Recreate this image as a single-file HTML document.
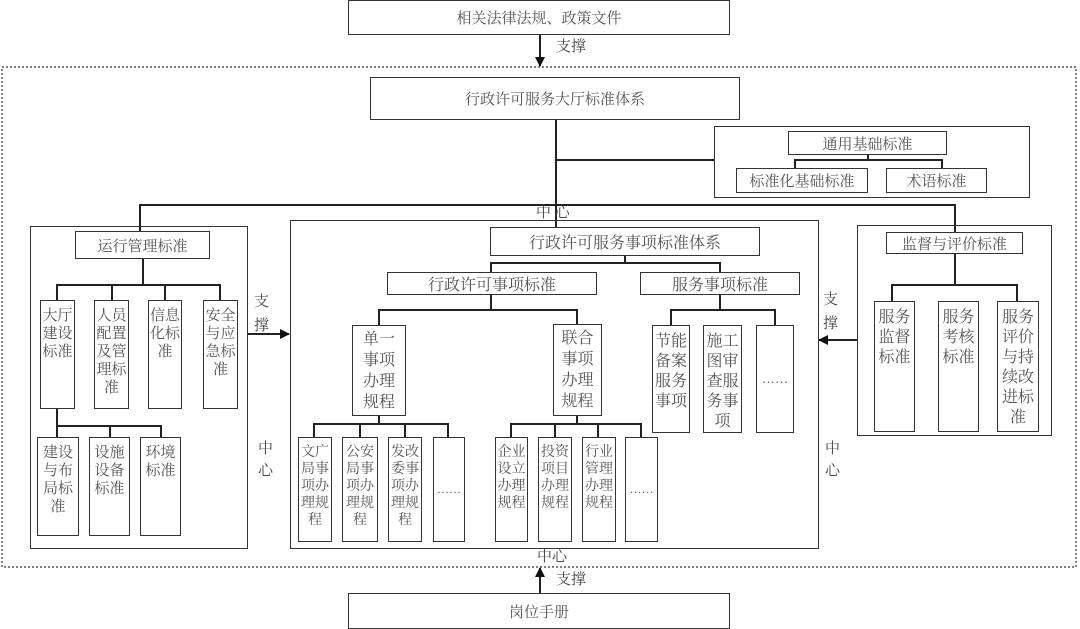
<!DOCTYPE html>
<html><head><meta charset="utf-8"><style>
body{margin:0;width:1080px;height:628px;background:#fff;position:relative;overflow:hidden;font-family:"Liberation Serif","Noto Serif CJK SC","Noto Sans CJK SC",serif;color:#555}
.b{position:absolute;border:1.5px solid #333;box-sizing:border-box;background:#fff;text-align:center}
.h{display:flex;align-items:center;justify-content:center;font-size:15px}
.v{font-size:15px;line-height:18px;padding-top:6px;text-align:center;padding-left:0;white-space:nowrap}
.t{position:absolute;font-size:15px;color:#444;line-height:18px}
svg{position:absolute;left:0;top:0}
</style></head><body>
<svg width="1080" height="628">
<defs><marker id="a" markerWidth="10" markerHeight="10" refX="9" refY="5" orient="auto" markerUnits="userSpaceOnUse"><path d="M0,0 L10,5 L0,10z" fill="#111"/></marker></defs>
<rect x="2" y="67" width="1074" height="500" fill="none" stroke="#333" stroke-width="1.2" stroke-dasharray="2,2"/>
<g stroke="#222" stroke-width="2" fill="none">
<line x1="540" y1="34" x2="540" y2="66" marker-end="url(#a)"/>
<line x1="540" y1="596" x2="540" y2="568" marker-end="url(#a)"/>
<line x1="248" y1="334" x2="289" y2="334" marker-end="url(#a)"/>
<line x1="857" y1="340" x2="819" y2="340" marker-end="url(#a)"/>
<polyline points="556,119 556,205"/>
<polyline points="556,160 714,160"/>
<polyline points="140,231 140,205 955,205 955,232"/>
<polyline points="556,205 556,227"/>
<polyline points="868,154 868,160"/><polyline points="795,168 795,160 942,160 942,168"/>
<polyline points="955,253 955,285"/><polyline points="892,301 892,285 1017,285 1017,301"/>
<polyline points="143,258 143,285"/><polyline points="57,300 57,285 220,285 220,300"/>
<line x1="112" y1="285" x2="112" y2="300"/><line x1="165" y1="285" x2="165" y2="300"/>
<polyline points="57,408 57,437"/><polyline points="57,426 161,426 161,437"/><line x1="110" y1="426" x2="110" y2="437"/>
<line x1="625" y1="255" x2="625" y2="263"/><polyline points="491,272 491,263 720,263 720,272"/>
<line x1="491" y1="294" x2="491" y2="310"/><polyline points="379,325 379,310 577,310 577,324"/>
<polyline points="720,294 720,310"/><polyline points="671,325 671,310 775,310 775,325"/>
<line x1="379" y1="415" x2="379" y2="424"/><polyline points="314,437 314,424 448,424 448,437"/>
<line x1="360" y1="424" x2="360" y2="437"/><line x1="405" y1="424" x2="405" y2="437"/>
<line x1="577" y1="415" x2="577" y2="424"/><polyline points="511,437 511,424 641,424 641,437"/>
<line x1="555" y1="424" x2="555" y2="437"/><line x1="598" y1="424" x2="598" y2="437"/>
</g>
</svg>
<div class="b h" style="left:348px;top:0;width:382px;height:35px">相关法律法规、政策文件</div>
<div class="t" style="left:556px;top:38px">支撑</div>
<div class="b h" style="left:370px;top:77px;width:370px;height:43px">行政许可服务大厅标准体系</div>
<div class="b" style="left:714px;top:126px;width:316px;height:72px;background:none"></div>
<div class="b h" style="left:788px;top:131px;width:159px;height:24px">通用基础标准</div>
<div class="b h" style="left:736px;top:168px;width:132px;height:25px">标准化基础标准</div>
<div class="b h" style="left:886px;top:168px;width:101px;height:25px">术语标准</div>
<div class="t" style="left:536px;top:204px">中 心</div>
<!-- left -->
<div class="b" style="left:30px;top:226px;width:218px;height:323px;background:none"></div>
<div class="b h" style="left:75px;top:231px;width:135px;height:28px">运行管理标准</div>
<div class="b v" style="left:40px;top:300px;width:35px;height:109px">大厅<br>建设<br>标准</div>
<div class="b v" style="left:94px;top:300px;width:35px;height:109px">人员<br>配置<br>及管<br>理标<br>准</div>
<div class="b v" style="left:148px;top:300px;width:34px;height:109px">信息<br>化标<br>准</div>
<div class="b v" style="left:203px;top:300px;width:35px;height:109px">安全<br>与应<br>急标<br>准</div>
<div class="b v" style="left:37px;top:437px;width:42px;height:99px">建设<br>与布<br>局标<br>准</div>
<div class="b v" style="left:89px;top:437px;width:41px;height:99px">设施<br>设备<br>标准</div>
<div class="b v" style="left:140px;top:437px;width:41px;height:99px">环境<br>标准</div>
<div class="t" style="left:254px;top:290px;width:16px;line-height:24px">支撑</div>
<div class="t" style="left:258px;top:438px;width:16px;line-height:22px">中心</div>
<!-- center -->
<div class="b" style="left:290px;top:220px;width:529px;height:329px;background:none"></div>
<div class="b h" style="left:490px;top:227px;width:270px;height:29px;font-size:16px">行政许可服务事项标准体系</div>
<div class="b h" style="left:387px;top:272px;width:210px;height:23px;font-size:16px">行政许可事项标准</div>
<div class="b h" style="left:640px;top:272px;width:160px;height:23px;font-size:16px">服务事项标准</div>
<div class="b v" style="left:352px;top:325px;width:54px;height:91px;font-size:16px;line-height:21px;padding-top:3px">单一<br>事项<br>办理<br>规程</div>
<div class="b v" style="left:553px;top:324px;width:49px;height:92px;font-size:16px;line-height:21px;padding-top:3px">联合<br>事项<br>办理<br>规程</div>
<div class="b v" style="left:652px;top:325px;width:38px;height:108px;font-size:16px;line-height:20px">节能<br>备案<br>服务<br>事项</div>
<div class="b v" style="left:703px;top:325px;width:39px;height:108px;font-size:16px;line-height:20px">施工<br>图审<br>查服<br>务事<br>项</div>
<div class="b h" style="left:756px;top:325px;width:38px;height:108px;font-size:13px">……</div>
<div class="b v" style="left:298px;top:437px;width:34px;height:105px;font-size:14px;line-height:17px">文广<br>局事<br>项办<br>理规<br>程</div>
<div class="b v" style="left:342px;top:437px;width:36px;height:105px;font-size:14px;line-height:17px">公安<br>局事<br>项办<br>理规<br>程</div>
<div class="b v" style="left:388px;top:437px;width:34px;height:105px;font-size:14px;line-height:17px">发改<br>委事<br>项办<br>理规<br>程</div>
<div class="b h" style="left:433px;top:437px;width:32px;height:105px;font-size:12px">……</div>
<div class="b v" style="left:495px;top:437px;width:33px;height:105px;font-size:14px;line-height:17px">企业<br>设立<br>办理<br>规程</div>
<div class="b v" style="left:538px;top:437px;width:34px;height:105px;font-size:14px;line-height:17px">投资<br>项目<br>办理<br>规程</div>
<div class="b v" style="left:582px;top:437px;width:34px;height:105px;font-size:14px;line-height:17px">行业<br>管理<br>办理<br>规程</div>
<div class="b h" style="left:625px;top:437px;width:33px;height:105px;font-size:12px">……</div>
<!-- right -->
<div class="b" style="left:857px;top:225px;width:195px;height:211px;background:none"></div>
<div class="b h" style="left:886px;top:232px;width:137px;height:22px">监督与评价标准</div>
<div class="b v" style="left:874px;top:301px;width:41px;height:131px;font-size:16px;line-height:20px">服务<br>监督<br>标准</div>
<div class="b v" style="left:938px;top:301px;width:41px;height:131px;font-size:16px;line-height:20px">服务<br>考核<br>标准</div>
<div class="b v" style="left:997px;top:301px;width:42px;height:131px;font-size:16px;line-height:20px">服务<br>评价<br>与持<br>续改<br>进标<br>准</div>
<div class="t" style="left:823px;top:288px;width:16px;line-height:24px">支撑</div>
<div class="t" style="left:825px;top:438px;width:16px;line-height:22px">中心</div>
<!-- bottom -->
<div class="t" style="left:537px;top:548px">中心</div>
<div class="t" style="left:556px;top:571px">支撑</div>
<div class="b h" style="left:348px;top:593px;width:382px;height:36px">岗位手册</div>
</body></html>
